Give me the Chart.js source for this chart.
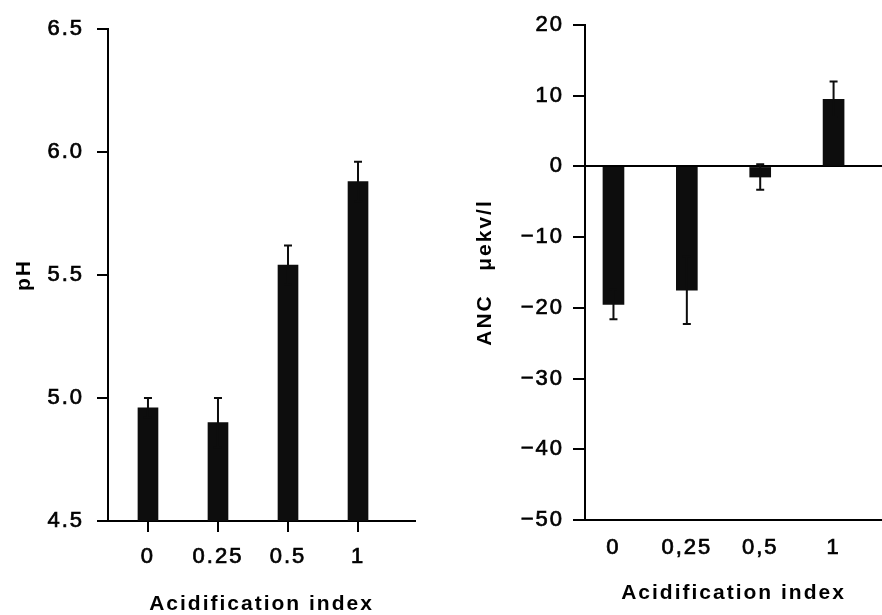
<!DOCTYPE html>
<html>
<head>
<meta charset="utf-8">
<script src="https://cdn.jsdelivr.net/npm/chart.js@4.4.1/dist/chart.umd.min.js"></script>
<style>
  html, body { margin: 0; padding: 0; background: #fff; }
  .wrap { position: relative; width: 882px; height: 615px; }
  canvas { position: absolute; top: 0; }
  #phChart { left: 0; }
  #ancChart { left: 441px; }
</style>
</head>
<body>
<div class="wrap">
  <canvas id="phChart" width="441" height="615"></canvas>
  <canvas id="ancChart" width="441" height="615"></canvas>
</div>
<script>
// left panel: pH
const phLabels = ["0", "0.25", "0.5", "1"];
const phValues = [4.96, 4.90, 5.54, 5.88];
const phErrors = [0.04, 0.10, 0.08, 0.08];
const phTicks = [4.5, 5.0, 5.5, 6.0, 6.5];

// right panel: ANC
const ancLabels = ["0", "0,25", "0,5", "1"];
const ancValues = [-19.5, -17.5, -1.5, 9.5];
const ancErrors = [2.1, 4.8, 1.8, 2.5];
const ancTicks = [20, 10, 0, -10, -20, -30, -40, -50];

const FONT = "'Liberation Sans', Arial, sans-serif";
const INK = "#000";
const BAR = "#0d0d0d";
const SPACING = "2px";

// letterSpacing is lost whenever the canvas gets sized, so put it back before layout and draw
const spacingPlugin = {
  id: "spacing",
  beforeUpdate(chart) { chart.ctx.letterSpacing = SPACING; },
  beforeDraw(chart) { chart.ctx.letterSpacing = SPACING; }
};

// simple error bars, whisker + caps both ways (the inner half hides in the bar)
const errorBarPlugin = {
  id: "errorBars",
  afterDatasetsDraw(chart, args, opts) {
    const { ctx, scales: { x, y } } = chart;
    const points = chart.data.datasets[0].data;
    ctx.save();
    ctx.strokeStyle = BAR;
    ctx.lineWidth = 2;
    points.forEach((pt, i) => {
      const err = opts.errors[i];
      const px = x.getPixelForValue(pt.x);
      const hi = y.getPixelForValue(pt.y + err);
      const lo = y.getPixelForValue(pt.y - err);
      ctx.beginPath();
      ctx.moveTo(px, hi);
      ctx.lineTo(px, lo);
      ctx.moveTo(px - opts.cap, hi);
      ctx.lineTo(px + opts.cap, hi);
      ctx.moveTo(px - opts.cap, lo);
      ctx.lineTo(px + opts.cap, lo);
      ctx.stroke();
    });
    ctx.restore();
  }
};

const tickFont = { family: FONT, size: 22 };
const titleFont = { family: FONT, size: 21, weight: "bold" };
// the scan's lettering is a bit heavier than plain regular weight
const tickInk = { color: INK, font: tickFont, textStrokeColor: INK, textStrokeWidth: 0.7 };

new Chart(document.getElementById("phChart"), {
  type: "bar",
  data: {
    datasets: [{
      data: phValues.map((v, i) => ({ x: i, y: v })),
      backgroundColor: BAR,
      barThickness: 20
    }]
  },
  options: {
    responsive: false,
    animation: false,
    layout: { padding: { top: 29, right: 26, bottom: 0, left: 0 } },
    plugins: {
      legend: { display: false },
      tooltip: { enabled: false },
      errorBars: { errors: phErrors, cap: 4 }
    },
    scales: {
      x: {
        type: "linear",
        min: -0.571,
        max: 3.814,
        offset: false,
        afterBuildTicks: s => { s.ticks = phLabels.map((_, i) => ({ value: i })); },
        afterFit: s => { s.height = 94; },
        ticks: { ...tickInk, callback: v => phLabels[v], padding: 12, maxRotation: 0 },
        grid: { offset: false, drawOnChartArea: false, drawTicks: true, tickLength: 11, color: INK, lineWidth: 2 },
        border: { display: true, color: INK, width: 2 },
        title: { display: true, text: "Acidification index", color: INK, font: { ...titleFont, lineHeight: 1 }, padding: { top: 0, bottom: 0 } }
      },
      y: {
        min: 4.5,
        max: 6.5,
        afterBuildTicks: s => { s.ticks = phTicks.map(v => ({ value: v })); },
        afterFit: s => { s.width = 108; },
        ticks: { ...tickInk, callback: v => v.toFixed(1), padding: 13 },
        grid: { drawOnChartArea: false, drawTicks: true, tickLength: 11, color: INK, lineWidth: 2 },
        border: { display: true, color: INK, width: 2 },
        title: { display: true, text: "pH", color: INK, font: titleFont, padding: { top: 12, bottom: 0 } }
      }
    }
  },
  plugins: [spacingPlugin, errorBarPlugin]
});

new Chart(document.getElementById("ancChart"), {
  type: "bar",
  data: {
    datasets: [{
      data: ancValues.map((v, i) => ({ x: i, y: v })),
      backgroundColor: BAR,
      barThickness: 21
    }]
  },
  options: {
    responsive: false,
    animation: false,
    layout: { padding: { top: 25, right: 0, bottom: 0, left: 0 } },
    plugins: {
      legend: { display: false },
      tooltip: { enabled: false },
      errorBars: { errors: ancErrors, cap: 4 }
    },
    scales: {
      x: {
        type: "linear",
        min: -0.388,
        max: 3.66,
        offset: false,
        afterBuildTicks: s => { s.ticks = ancLabels.map((_, i) => ({ value: i })); },
        afterFit: s => { s.height = 95; },
        ticks: { ...tickInk, callback: v => ancLabels[v], padding: 15, maxRotation: 0 },
        grid: { offset: false, display: false, drawTicks: false },
        border: { display: true, color: INK, width: 2, dash: [0, 12, 1000] },
        title: { display: true, text: "Acidification index", color: INK, font: titleFont, padding: { top: 0, bottom: 9 } }
      },
      y: {
        min: -50,
        max: 20,
        afterBuildTicks: s => { s.ticks = ancTicks.map(v => ({ value: v })); },
        afterFit: s => { s.width = 144; },
        ticks: { ...tickInk, callback: v => String(v).replace("-", "\u2212"), padding: 9 },
        grid: {
          drawOnChartArea: true,
          drawTicks: true,
          tickLength: 12,
          color: c => (c.tick && c.tick.value === 0 ? INK : "rgba(0,0,0,0)"),
          tickColor: INK,
          lineWidth: 2
        },
        border: { display: true, color: INK, width: 2 },
        title: { display: true, text: "ANC   \u03bcekv/l", color: INK, font: titleFont, padding: { top: 32, bottom: 0 } }
      }
    }
  },
  plugins: [spacingPlugin, errorBarPlugin]
});
</script>
</body>
</html>
